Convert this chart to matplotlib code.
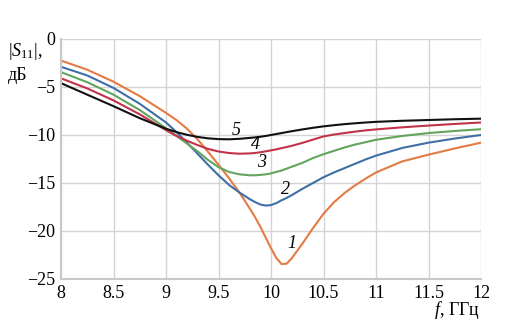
import matplotlib
matplotlib.use("Agg")
import matplotlib.pyplot as plt

plt.rcParams['font.family'] = ['Liberation Serif', 'DejaVu Serif']
plt.rcParams['mathtext.fontset'] = 'custom'
plt.rcParams['mathtext.rm'] = 'Liberation Serif'
plt.rcParams['mathtext.it'] = 'Liberation Serif:italic'
plt.rcParams['axes.unicode_minus'] = True

# frequency, GHz
freq = [8.0, 8.25, 8.5, 8.75, 9.0, 9.1, 9.2, 9.3, 9.4, 9.5, 9.6, 9.7, 9.8,
        9.85, 9.9, 9.95, 10.0, 10.05, 10.1, 10.15, 10.2, 10.3, 10.4, 10.5,
        10.6, 10.7, 10.8, 10.9, 11.0, 11.25, 11.5, 11.75, 12.0]

# |S11|, dB for the five variants
s11_1 = [-2.25, -3.2, -4.45, -5.95, -7.7, -8.45, -9.35, -10.45, -11.75, -13.1,
         -14.5, -16.0, -17.7, -18.6, -19.6, -20.7, -21.8, -22.8, -23.45,
         -23.4, -22.8, -21.3, -19.7, -18.2, -17.0, -16.05, -15.25, -14.55,
         -13.9, -12.75, -12.05, -11.4, -10.8]
s11_2 = [-2.9, -3.8, -5.1, -6.75, -8.7, -9.7, -10.8, -11.95, -13.1, -14.2,
         -15.2, -16.0, -16.7, -17.0, -17.25, -17.35, -17.3, -17.1, -16.8,
         -16.55, -16.25, -15.6, -15.0, -14.4, -13.9, -13.45, -13.0, -12.55,
         -12.15, -11.35, -10.8, -10.37, -10.0]
s11_3 = [-3.45, -4.5, -5.8, -7.4, -9.3, -10.1, -10.9, -11.7, -12.6, -13.35,
         -13.85, -14.1, -14.2, -14.2, -14.15, -14.1, -14.0, -13.85, -13.7,
         -13.5, -13.3, -12.9, -12.4, -12.0, -11.65, -11.3, -11.0, -10.75,
         -10.5, -10.1, -9.8, -9.58, -9.4]
s11_4 = [-4.1, -5.15, -6.4, -7.85, -9.5, -10.1, -10.6, -11.05, -11.45, -11.72,
         -11.88, -11.95, -11.92, -11.87, -11.8, -11.7, -11.6, -11.5, -11.37,
         -11.25, -11.12, -10.82, -10.48, -10.15, -9.95, -9.8, -9.65, -9.52,
         -9.42, -9.2, -9.02, -8.85, -8.7]
s11_5 = [-4.6, -5.8, -7.0, -8.25, -9.35, -9.7, -9.98, -10.2, -10.35, -10.43,
         -10.45, -10.4, -10.3, -10.25, -10.18, -10.1, -10.0, -9.9, -9.8,
         -9.7, -9.6, -9.42, -9.25, -9.1, -8.98, -8.87, -8.78, -8.7,
         -8.63, -8.52, -8.44, -8.36, -8.3]

curves = [s11_1, s11_2, s11_3, s11_4, s11_5]
colors = ['#e47b43', '#3f6fa6', '#62a55c', '#c2334b', '#111111']
curve_names = ['1', '2', '3', '4', '5']
name_x = [10.2, 10.14, 9.91, 9.85, 9.67]
name_y = [-21.3, -15.7, -12.9, -11.0, -9.5]

xticks = [8, 8.5, 9, 9.5, 10, 10.5, 11, 11.5, 12]
xtick_labels = ['8', '8.5', '9', '9.5', '10', '10.5', '11', '11.5', '12']
yticks = [0, -5, -10, -15, -20, -25]

fig = plt.figure(figsize=(5.22, 3.29), dpi=100)
ax = fig.add_axes([0.1169, 0.152, 0.8046, 0.7295])

for vals, c in zip(curves, colors):
    ax.plot(freq, vals, color=c, lw=1.5, solid_capstyle='round',
            solid_joinstyle='round')

for n, x, y in zip(curve_names, name_x, name_y):
    ax.text(x, y, n, fontsize=13, style='italic', ha='center', va='center')

ax.set_xlim(8, 12)
ax.set_ylim(-25, 0)
ax.set_xticks(xticks)
ax.set_xticklabels(xtick_labels)
ax.set_yticks(yticks)
ax.tick_params(length=0, labelsize=13, pad=4)
ax.grid(True, color='#d4d4d4', lw=1)
for side in ['top', 'right']:
    ax.spines[side].set_visible(False)
for side in ['left', 'bottom']:
    ax.spines[side].set_color('#c8c8c8')
    ax.spines[side].set_linewidth(1.5)

fig.text(8 / 522, 1 - 52 / 329, r'$|S_{11}|$,', fontsize=13, ha='left', va='center')
fig.text(8 / 522, 1 - 75 / 329, 'дБ', fontsize=13, ha='left', va='center')
fig.text(480 / 522, 1 - 310 / 329, r'$f$, ГГц', fontsize=13, ha='right', va='center')

fig.savefig('out.png', dpi=100)
